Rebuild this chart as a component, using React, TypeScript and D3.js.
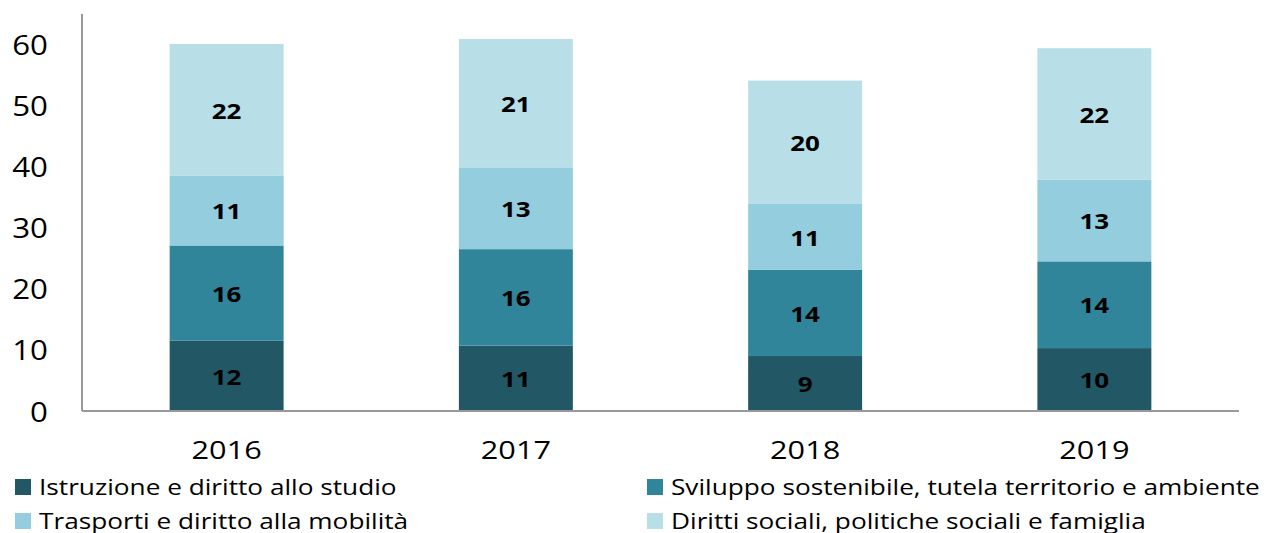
import React from "react";
import * as d3 from "d3";

const years = ["2016", "2017", "2018", "2019"];
const seriesNames = [
  "Istruzione e diritto allo studio",
  "Sviluppo sostenibile, tutela territorio e ambiente",
  "Trasporti e diritto alla mobilità",
  "Diritti sociali, politiche sociali e famiglia",
];
const istruzione = [11.5, 10.7, 9.0, 10.3];
const sviluppo = [15.6, 15.8, 14.1, 14.2];
const trasporti = [11.4, 13.4, 10.8, 13.4];
const diritti = [21.6, 21.0, 20.2, 21.5];
const yTicks = [0, 10, 20, 30, 40, 50, 60];
const colors = ["#225866", "#31859b", "#94cdde", "#b8dee8"];

const W = 1266;
const H = 533;
const FONT = "'Open Sans', sans-serif";
const SX = 1.18;

export default function App() {
  const seriesValues = [istruzione, sviluppo, trasporti, diritti];
  const rows = years.map((yr, i) => {
    const r: any = { year: yr };
    seriesNames.forEach((s, k) => (r[s] = seriesValues[k][i]));
    return r;
  });
  const stacked = d3.stack<any>().keys(seriesNames)(rows);

  const x = d3
    .scaleBand<string>()
    .domain(years)
    .range([82, 1239])
    .paddingInner(0.606)
    .paddingOuter(0.303);
  const y = d3.scaleLinear().domain([0, 65]).range([411, 14]);
  const [y0, yTop] = [y(0), y(65)];
  const fmt = (v: number) => String(Math.round(v));

  const legendItems = [
    { idx: 0, col: 0, row: 0 },
    { idx: 1, col: 1, row: 0 },
    { idx: 2, col: 0, row: 1 },
    { idx: 3, col: 1, row: 1 },
  ];
  const colX = [15, 647];
  const rowY = [495, 529];

  return (
    <svg
      width={W}
      height={H}
      style={{ position: "absolute", left: 0, top: 0, background: "#fff" }}
      fontFamily={FONT}
    >
      {stacked.map((layer, k) => (
        <g key={k} fill={colors[k]}>
          {layer.map((d, i) => (
            <rect
              key={i}
              x={x(years[i])}
              y={y(d[1])}
              width={x.bandwidth()}
              height={y(d[0]) - y(d[1])}
            />
          ))}
        </g>
      ))}
      {stacked.map((layer, k) => (
        <g key={"l" + k}>
          {layer.map((d, i) => {
            const cx = (x(years[i]) as number) + x.bandwidth() / 2;
            const cy = (y(d[0]) + y(d[1])) / 2;
            return (
              <text
                key={i}
                transform={`translate(${cx},${cy}) scale(${SX},1)`}
                textAnchor="middle"
                dominantBaseline="central"
                fontWeight="bold"
                fontSize={22}
                fill="#000"
              >
                {fmt(d[1] - d[0])}
              </text>
            );
          })}
        </g>
      ))}
      <line x1={82} x2={82} y1={yTop} y2={y0} stroke="#999" strokeWidth={2} />
      <line x1={82} x2={1239} y1={y0} y2={y0} stroke="#999" strokeWidth={2} />
      {yTicks.map((t) => (
        <text
          key={t}
          transform={`translate(48,${y(t)}) scale(${SX},1)`}
          textAnchor="end"
          dominantBaseline="central"
          fontSize={26.5}
          fill="#000"
        >
          {t}
        </text>
      ))}
      {years.map((yr) => (
        <text
          key={yr}
          transform={`translate(${(x(yr) as number) + x.bandwidth() / 2},459) scale(${SX},1)`}
          textAnchor="middle"
          fontSize={26}
          fill="#000"
        >
          {yr}
        </text>
      ))}
      {legendItems.map((it) => (
        <g key={it.idx}>
          <rect
            x={colX[it.col]}
            y={rowY[it.row] - 16}
            width={16}
            height={16}
            fill={colors[it.idx]}
          />
          <text
            transform={`translate(${colX[it.col] + 24},${rowY[it.row]}) scale(${SX * 1.01},1)`}
            fontSize={22}
            fill="#000"
          >
            {seriesNames[it.idx]}
          </text>
        </g>
      ))}
    </svg>
  );
}
